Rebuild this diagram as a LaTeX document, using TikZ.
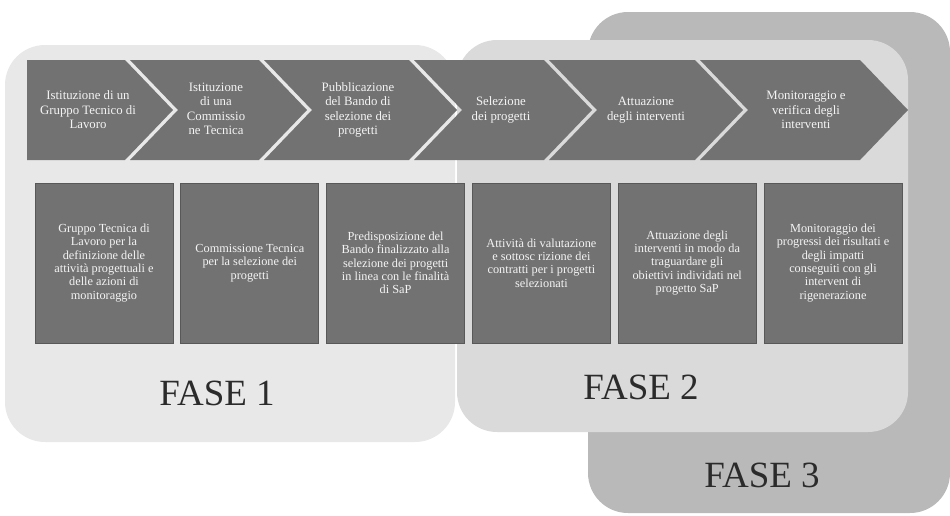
\documentclass[tikz,border=0pt]{standalone}
\usepackage{fontspec}
\setmainfont{Liberation Serif}
\usepackage{xcolor}
\usepackage{tikz}
\usetikzlibrary{positioning,fit}
\definecolor{fasea}{HTML}{E8E8E8}
\definecolor{faseb}{HTML}{DADADA}
\definecolor{fasec}{HTML}{B9B9B9}
\definecolor{blk}{HTML}{727272}
\definecolor{blkedge}{HTML}{585858}
\definecolor{txt}{HTML}{F4F4F4}
\definecolor{fasetxt}{HTML}{2B2B2B}
\newcommand\chev[3]{\fill[blk] (#1,60) -- ({#2-48},60) -- (#2,110) -- ({#2-48},160) -- (#1,160) -- ({#1+#3},110) -- cycle;}

\begin{document}
\begin{tikzpicture}[x=1pt,y=-1pt,
    panel/.style={inner sep=0pt,rounded corners=40pt},
    chevtext/.style={text=txt,align=center,font=\fontsize{12.8}{14.5}\selectfont},
    stepbox/.style={fill=blk,draw=blkedge,line width=0.8pt,minimum width=138pt,minimum height=160pt,
      inner sep=0pt,text=txt,align=center,font=\fontsize{12.3}{13.3}\selectfont},
    fase/.style={text=fasetxt,font=\fontsize{37}{40}\selectfont}]
    \useasboundingbox (0,0) rectangle (950,515);

    \path
    (5,45) coordinate (F1nw)
    (455,442) coordinate (F1se)
    (457,40) coordinate (F2nw)
    (908,432) coordinate (F2se)
    (588,12) coordinate (F3nw)
    (950,513) coordinate (F3se)
    ;
    \node[panel,fill=fasec,fit=(F3nw) (F3se)] (F3) {};
    \node[panel,fill=fasea,fit=(F1nw) (F1se)] (F1) {};
    \node[panel,fill=faseb,fit=(F2nw) (F2se)] (F2) {};

    \chev{27}{173}{0}
    \chev{130}{307}{48}
    \chev{264}{457}{48}
    \chev{414}{592}{48}
    \chev{549}{743}{48}
    \chev{700}{908}{48}

    \node[chevtext] (c1) at (88,110) {Istituzione di un\\Gruppo Tecnico di\\Lavoro};
    \node[chevtext] (c2) at (216,109) {Istituzione\\di una\\Commissio\\ne Tecnica};
    \node[chevtext] (c3) at (358,110) {Pubblicazione\\del Bando di\\selezione dei\\progetti};
    \node[chevtext] (c4) at (501,110) {Selezione\\dei progetti};
    \node[chevtext] (c5) at (646,110) {Attuazione\\degli interventi};
    \node[chevtext] (c6) at (806,110) {Monitoraggio e\\verifica degli\\interventi};

    \node[stepbox] (b1) at (104,263) {Gruppo Tecnica di\\Lavoro per la\\definizione delle\\attività progettuali e\\delle azioni di\\monitoraggio};
    \node[stepbox,right=7pt of b1] (b2) {Commissione Tecnica\\per la selezione dei\\progetti};
    \node[stepbox,right=7pt of b2] (b3) {Predisposizione del\\Bando finalizzato alla\\selezione dei progetti\\in linea con le finalità\\di SaP};
    \node[stepbox,right=7pt of b3] (b4) {Attività di valutazione\\e sottosc rizione dei\\contratti per i progetti\\selezionati};
    \node[stepbox,right=7pt of b4] (b5) {Attuazione degli\\interventi in modo da\\traguardare gli\\obiettivi individati nel\\progetto SaP};
    \node[stepbox,right=7pt of b5] (b6) {Monitoraggio dei\\progressi dei risultati e\\degli impatti\\conseguiti con gli\\intervent di\\rigenerazione};

    \node[fase] (L1) at (217,393) {FASE 1};
    \node[fase] (L2) at (641,387) {FASE 2};
    \node[fase] (L3) at (762,475) {FASE 3};
  \end{tikzpicture}
\end{document}
